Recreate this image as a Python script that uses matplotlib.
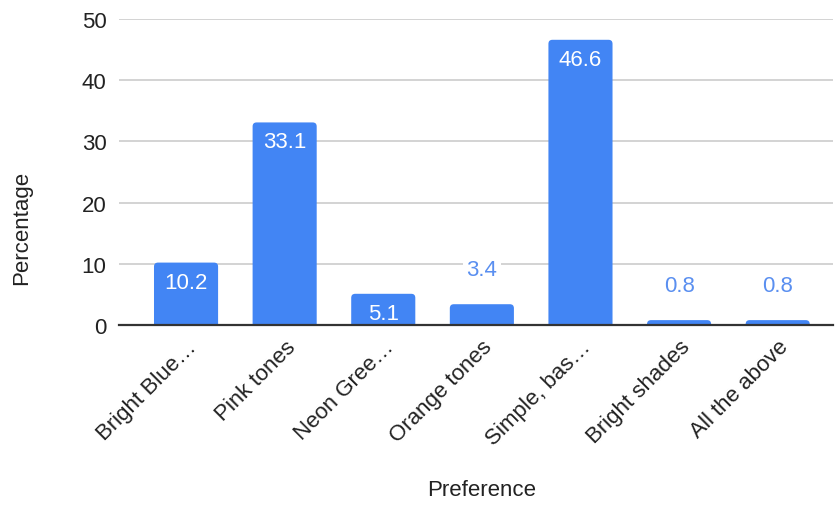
import matplotlib
matplotlib.use("Agg")
import matplotlib.pyplot as plt
from matplotlib.patches import FancyBboxPatch

categories = ["Bright Blue…", "Pink tones", "Neon Gree…", "Orange tones",
              "Simple, bas…", "Bright shades", "All the above"]
values = [10.2, 33.1, 5.1, 3.4, 46.6, 0.8, 0.8]
yticks = [0, 10, 20, 30, 40, 50]

plt.rcParams["font.family"] = ["Liberation Sans", "DejaVu Sans"]

BAR = "#4285F4"
FS = 16
fig = plt.figure(figsize=(8.35, 5.06), dpi=100)
ax = fig.add_axes([0.1425, 0.3557, 0.855, 0.6048])

x = list(range(len(categories)))
bars = ax.bar(x, values, width=0.65, color=BAR, zorder=3)

ax.set_xlim(-0.68, 6.56)
ax.set_ylim(0, 50)

# swap plain rectangles for ones with slightly rounded top corners
fig.canvas.draw()
px_per_x = ax.transData.transform((1, 0))[0] - ax.transData.transform((0, 0))[0]
px_per_y = ax.transData.transform((0, 1))[1] - ax.transData.transform((0, 0))[1]
r = 4 / px_per_x
aspect = px_per_x / px_per_y
for b in bars:
    bx, bw, bh = b.get_x(), b.get_width(), b.get_height()
    below = 5 / px_per_y
    fb = FancyBboxPatch((bx, -below), bw, bh + below,
                        boxstyle=f"round,pad=0,rounding_size={r}",
                        mutation_aspect=aspect, facecolor=BAR, edgecolor="none",
                        zorder=3, clip_on=True)
    ax.add_patch(fb)
    b.set_visible(False)

ax.set_yticks(yticks)
ax.set_yticklabels([str(t) for t in yticks], fontsize=FS, color="#222222")
ax.yaxis.grid(True, color="#cccccc", linewidth=1.2, zorder=0)
ax.tick_params(axis="y", length=0, pad=9)
ax.tick_params(axis="x", length=0, pad=8)

ax.set_xticks(x)
ax.set_xticklabels(categories, rotation=45, ha="right", rotation_mode="anchor",
                   fontsize=FS, color="#222222")

for s in ["top", "right", "left"]:
    ax.spines[s].set_visible(False)
ax.spines["bottom"].set_color("#333333")
ax.spines["bottom"].set_linewidth(1.6)
ax.spines["bottom"].set_zorder(4)

# value labels: inside tall bars, above short ones
for xi, v in zip(x, values):
    if v >= 5:
        ax.annotate(f"{v}", (xi, v), xytext=(0, -14), textcoords="offset points",
                    ha="center", va="center", color="white", fontsize=FS, zorder=5)
    else:
        ax.annotate(f"{v}", (xi, v), xytext=(0, 25), textcoords="offset points",
                    ha="center", va="center", color="#5a8ff0", fontsize=FS, zorder=5,
                    bbox=dict(boxstyle="square,pad=0.15", facecolor="white",
                              edgecolor="none"))

fig.text(22 / 835, 1 - 228 / 506, "Percentage", rotation=90, ha="center", va="center",
         fontsize=FS, color="#222222")
fig.text(482 / 835, 1 - 491 / 506, "Preference", ha="center", va="center",
         fontsize=FS, color="#222222")

fig.savefig("out.png", dpi=100)
